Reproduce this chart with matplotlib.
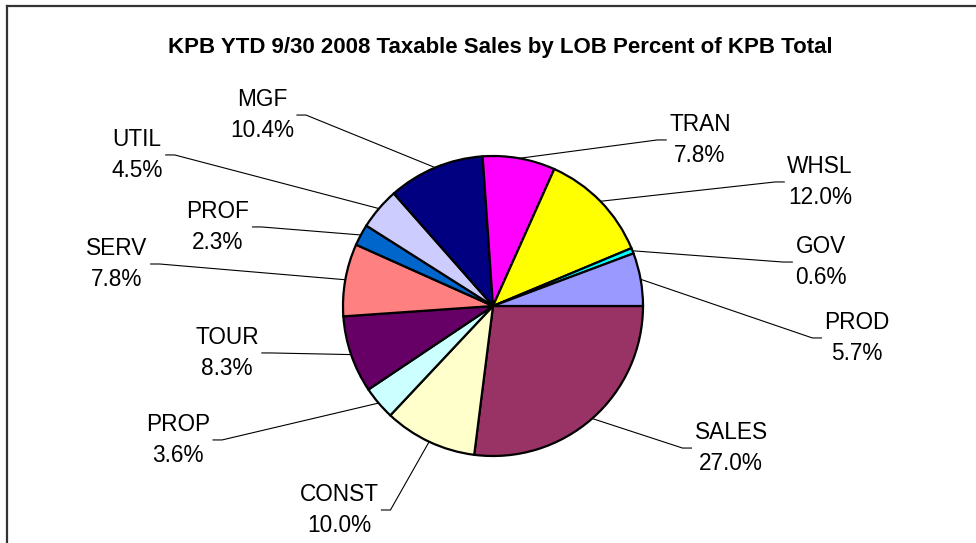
import matplotlib
matplotlib.use("Agg")
import matplotlib.pyplot as plt
from matplotlib.lines import Line2D
import numpy as np

plt.rcParams['font.family'] = ['Liberation Sans', 'DejaVu Sans']

categories = ["SALES", "CONST", "PROP", "TOUR", "SERV", "PROF", "UTIL", "MGF",
              "TRAN", "WHSL", "GOV", "PROD"]
percents = [27.0, 10.0, 3.6, 8.3, 7.8, 2.3, 4.5, 10.4, 7.8, 12.0, 0.6, 5.7]
colors = ["#993366", "#FFFFCC", "#CCFFFF", "#660066", "#FF8080", "#0066CC",
          "#CCCCFF", "#000080", "#FF00FF", "#FFFF00", "#00FFFF", "#9999FF"]
title = "KPB YTD 9/30 2008 Taxable Sales by LOB Percent of KPB Total"

# label text centres (in pie-radius units, pie centred at 0,0)
label_pos = [(1.587, -0.947), (-1.027, -1.36), (-2.10, -0.893), (-1.773, -0.313),
             (-2.507, 0.280), (-1.833, 0.527), (-2.373, 1.007), (-1.54, 1.273),
             (1.38, 1.107), (2.18, 0.827), (2.187, 0.293), (2.427, -0.213)]

W, H = 976, 543
fig = plt.figure(figsize=(W / 100, H / 100), dpi=100)
ax = fig.add_axes([0, 0, 1, 1])
R = 150.0
cx, cy = 493.0, 306.0

wedges, _ = ax.pie(percents, colors=colors, startangle=0, counterclock=False,
                   radius=1.0, center=(0, 0), frame=True,
                   wedgeprops=dict(edgecolor='black', linewidth=1.6))
ax.set_xlim(-cx / R, (W - cx) / R)
ax.set_ylim((cy - H) / R, cy / R)
ax.axis('off')

texts = []
for cat, p, (tx, ty) in zip(categories, percents, label_pos):
    t = ax.text(tx, ty, f"{cat}\n{p:.1f}%", ha='center', va='center',
                multialignment='center', fontsize=16.3, linespacing=1.4)
    texts.append(t)

fig.canvas.draw()
renderer = fig.canvas.get_renderer()
inv = ax.transData.inverted()
for w, t, (tx, ty) in zip(wedges, texts, label_pos):
    ang = np.deg2rad((w.theta1 + w.theta2) / 2)
    ex, ey = np.cos(ang), np.sin(ang)
    bb = t.get_window_extent(renderer).transformed(inv)
    gap = 3 / R
    seg = 9 / R
    if tx < 0:
        x0 = bb.x1 + gap
        x1 = x0 + seg
    else:
        x0 = bb.x0 - gap
        x1 = x0 - seg
    ax.plot([x0, x1, ex], [ty, ty, ey], color='black', lw=0.8, zorder=0)

fig.text(500 / W, 1 - 47 / H, title, ha='center', va='center',
         fontsize=16, fontweight='bold')

# chart border (top and left visible)
fig.add_artist(Line2D([7 / W, 7 / W], [0, 1 - 6 / H], color='#333333', lw=1.6,
                      transform=fig.transFigure))
fig.add_artist(Line2D([7 / W, 1], [1 - 6 / H, 1 - 6 / H], color='#333333', lw=1.6,
                      transform=fig.transFigure))

fig.savefig("out.png", dpi=100, facecolor='white')
